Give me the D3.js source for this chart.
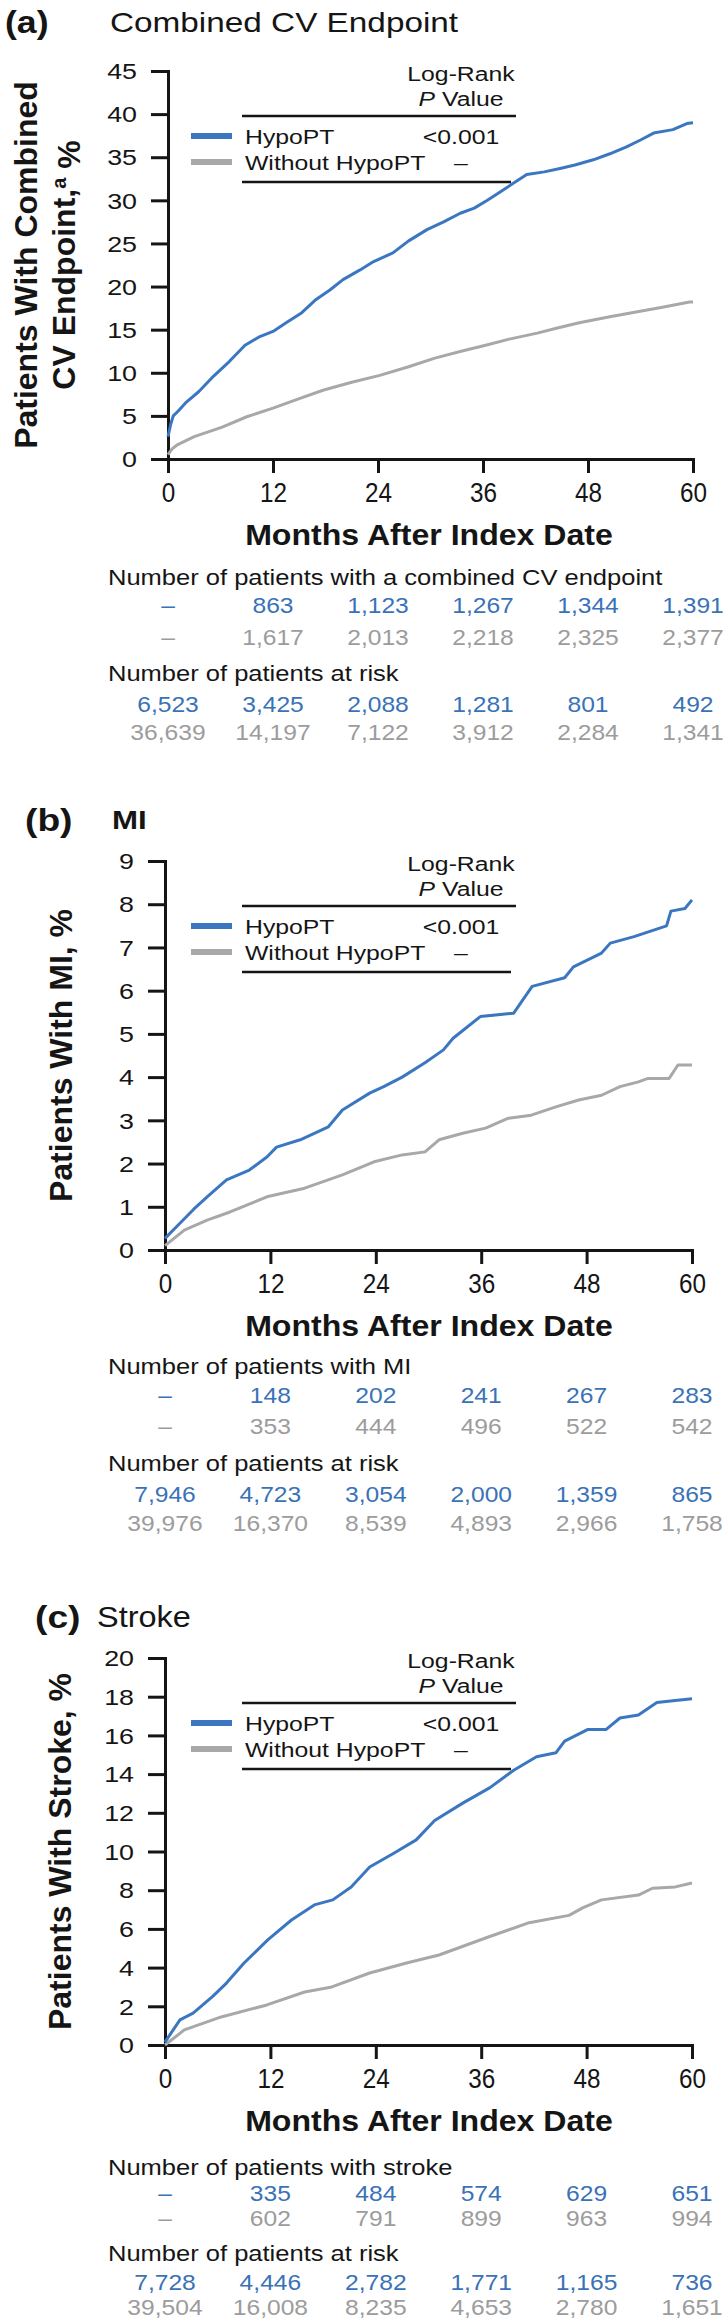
<!DOCTYPE html>
<html><head><meta charset="utf-8">
<script src="https://cdn.jsdelivr.net/npm/d3@7"></script>
<style>
body{margin:0;background:#fff}
svg{display:block}
text{font-family:"Liberation Sans",Arial,Helvetica,sans-serif}
</style>
</head><body>
<svg id="chart" width="723" height="2324"></svg>
<script>
// ---------- DATA ----------
const monthTicks = [0, 12, 24, 36, 48, 60];
const cvYTicks = [0, 5, 10, 15, 20, 25, 30, 35, 40, 45];
const miYTicks = [0, 1, 2, 3, 4, 5, 6, 7, 8, 9];
const strokeYTicks = [0, 2, 4, 6, 8, 10, 12, 14, 16, 18, 20];

const seriesNames = ["HypoPT", "Without HypoPT"];
const pValues = ["<0.001", "–"];

// [month, cumulative %]
const cvHypo = [[0,2.6],[0.3,4.0],[0.6,5.0],[1.2,5.6],[2,6.5],[3.5,7.8],[5,9.4],[7,11.3],[8.8,13.2],[10.5,14.2],[12,14.8],[13.5,15.8],[15.2,16.9],[16.8,18.4],[18.5,19.6],[20,20.8],[21.9,21.9],[23.5,22.9],[25.7,23.9],[27.5,25.3],[29.6,26.6],[31.5,27.5],[33.4,28.5],[35,29.1],[36.5,30.0],[38,31.0],[39.5,32.0],[41,33.0],[43,33.3],[44.8,33.7],[46.5,34.1],[48.6,34.7],[50.5,35.4],[52.4,36.2],[54,37.0],[55.5,37.8],[57.7,38.2],[59.3,38.9],[60,39.0]];
const cvNo = [[0,0.5],[0.5,1.2],[1,1.6],[3,2.6],[6.2,3.7],[9,4.9],[12,5.9],[15,7.0],[17.8,8.0],[21,8.9],[24.2,9.7],[27.5,10.7],[30.5,11.7],[33.5,12.5],[36.3,13.2],[39,13.9],[42.2,14.6],[44.5,15.2],[47,15.8],[50.5,16.5],[53.8,17.1],[56.5,17.6],[59.6,18.2],[60,18.2]];

const miHypo = [[0,0.27],[1.7,0.62],[3.3,0.95],[4.8,1.23],[7,1.62],[9.6,1.85],[11.6,2.15],[12.7,2.38],[15.4,2.55],[18.6,2.85],[20.2,3.24],[23.3,3.63],[24.9,3.78],[27,4.0],[29.6,4.33],[31.7,4.63],[32.8,4.9],[35.9,5.4],[39.7,5.48],[41.8,6.1],[45.5,6.3],[46.5,6.55],[49.7,6.87],[50.7,7.1],[53.4,7.25],[57.1,7.5],[57.6,7.84],[59.2,7.9],[60,8.1]];
const miNo = [[0,0.1],[2.2,0.46],[4.8,0.69],[7.4,0.88],[11.6,1.23],[15.9,1.43],[20.2,1.74],[23.8,2.04],[27,2.2],[29.6,2.27],[31.2,2.55],[33.9,2.7],[36.5,2.82],[39.1,3.05],[41.7,3.12],[44.5,3.31],[47.1,3.47],[49.7,3.58],[51.8,3.78],[53.9,3.89],[55,3.97],[57.4,3.97],[58.4,4.28],[60,4.28]];

const strokeHypo = [[0,0.15],[1.7,1.3],[3.2,1.65],[5.4,2.5],[7,3.2],[9,4.24],[11.7,5.43],[14.4,6.46],[17,7.24],[19.1,7.5],[21.2,8.17],[23.3,9.2],[26,9.9],[28.6,10.6],[30.7,11.6],[33.9,12.5],[37,13.3],[39.7,14.2],[42.3,14.9],[44.5,15.1],[45.5,15.7],[48.1,16.3],[50.2,16.3],[51.8,16.9],[53.9,17.05],[56,17.7],[58.1,17.8],[60,17.9]];
const strokeNo = [[0,0],[2.2,0.78],[6.4,1.45],[11.6,2.07],[15.9,2.74],[19,3.0],[23.3,3.72],[27.5,4.24],[31.2,4.65],[36.5,5.53],[41.3,6.3],[46,6.7],[47.6,7.1],[49.7,7.5],[53.9,7.75],[55.5,8.1],[58.1,8.17],[60,8.37]];

const cvEventsHypo = ["–","863","1,123","1,267","1,344","1,391"];
const cvEventsNo   = ["–","1,617","2,013","2,218","2,325","2,377"];
const cvRiskHypo   = ["6,523","3,425","2,088","1,281","801","492"];
const cvRiskNo     = ["36,639","14,197","7,122","3,912","2,284","1,341"];

const miEventsHypo = ["–","148","202","241","267","283"];
const miEventsNo   = ["–","353","444","496","522","542"];
const miRiskHypo   = ["7,946","4,723","3,054","2,000","1,359","865"];
const miRiskNo     = ["39,976","16,370","8,539","4,893","2,966","1,758"];

const strokeEventsHypo = ["–","335","484","574","629","651"];
const strokeEventsNo   = ["–","602","791","899","963","994"];
const strokeRiskHypo   = ["7,728","4,446","2,782","1,771","1,165","736"];
const strokeRiskNo     = ["39,504","16,008","8,235","4,653","2,780","1,651"];

// ---------- STYLE ----------
const BLUE = "#3b77c1", GRAY = "#a8a8a8";
const BLUE_T = "#3a72b8", GRAY_T = "#9c9c9c";
const INK = "#151515";

const svg = d3.select("#chart");

function T(g, x, y, str, o) {
  o = o || {};
  return g.append("text")
    .attr("transform", `translate(${x},${y}) scale(${o.sx || 1},1)`)
    .attr("text-anchor", o.anchor || "start")
    .attr("dy", "0.35em")
    .style("font-size", (o.size || 20) + "px")
    .style("font-weight", o.weight || 400)
    .style("font-style", o.italic ? "italic" : "normal")
    .attr("fill", o.fill || INK)
    .text(str);
}

const panels = [
  { letter:"(a)", letterX:5, letterSx:1.15, title:"Combined CV Endpoint", titleX:110, titleY:22, titleSize:28, titleWeight:400, titleSx:1.19,
    top:71, bottom:459, x0:168, x1:693, yMax:45, yTicks:cvYTicks, hypo:cvHypo, no:cvNo,
    ylab:"a", eventsLabel:"Number of patients with a combined CV endpoint",
    events:[cvEventsHypo, cvEventsNo], risk:[cvRiskHypo, cvRiskNo], tbl:[118,146,178,214,245,273] },
  { letter:"(b)", letterX:25, letterSx:1.2, title:"MI", titleX:112, titleY:820, titleSize:25, titleWeight:700, titleSx:1.25,
    top:861, bottom:1250, x0:165, x1:692, yMax:9, yTicks:miYTicks, hypo:miHypo, no:miNo,
    ylab:"Patients With MI, %", ylabX:60, eventsLabel:"Number of patients with MI",
    events:[miEventsHypo, miEventsNo], risk:[miRiskHypo, miRiskNo], tbl:[116,145,176,213,244,273] },
  { letter:"(c)", letterX:35, letterSx:1.2, title:"Stroke", titleX:97, titleY:1617, titleSize:29, titleWeight:400, titleSx:1.12,
    top:1658, bottom:2045, x0:165, x1:692, yMax:20, yTicks:strokeYTicks, hypo:strokeHypo, no:strokeNo,
    ylab:"Patients With Stroke, %", ylabX:59, eventsLabel:"Number of patients with stroke",
    events:[strokeEventsHypo, strokeEventsNo], risk:[strokeRiskHypo, strokeRiskNo], tbl:[122,148,173,208,237,262] }
];

panels.forEach(p => {
  const g = svg.append("g");
  const x = d3.scaleLinear().domain([0, 60]).range([p.x0, p.x1]);
  const y = d3.scaleLinear().domain([0, p.yMax]).range([p.bottom, p.top]);

  // titles
  T(g, p.letterX, p.titleY, p.letter, {size:31, weight:700, sx:p.letterSx});
  T(g, p.titleX, p.titleY, p.title, {size:p.titleSize, weight:p.titleWeight, sx:p.titleSx});

  // y axis
  const ya = g.append("g").attr("transform", `translate(${p.x0},0)`)
    .call(d3.axisLeft(y).tickValues(p.yTicks).tickSize(17).tickSizeOuter(0).tickFormat(d3.format("d")));
  ya.selectAll("path, line").attr("stroke", INK).attr("stroke-width", 3);
  ya.selectAll("text").attr("x", null).attr("dy", "0.35em")
    .attr("transform", "translate(-31,0) scale(1.22,1)")
    .style("font-size", "22px").attr("fill", INK).attr("font-family", null);

  // x axis
  const xa = g.append("g").attr("transform", `translate(0,${p.bottom})`)
    .call(d3.axisBottom(x).tickValues(monthTicks).tickSize(14).tickSizeOuter(0).tickFormat(d3.format("d")));
  xa.selectAll("path, line").attr("stroke", INK).attr("stroke-width", 3);
  xa.selectAll("text").attr("y", null).attr("dy", "0.35em")
    .attr("transform", "translate(0,34) scale(0.9,1)")
    .style("font-size", "27px").attr("fill", INK).attr("font-family", null);
  g.selectAll(".domain").attr("stroke-linecap", "square");

  // axis titles
  T(g, 429, p.bottom + 75, "Months After Index Date", {size:30, weight:700, sx:1.07, anchor:"middle"});
  const cy = (p.top + p.bottom) / 2;
  if (p.ylab === "a") {
    g.append("text").attr("transform", `translate(25,${cy}) rotate(-90)`).attr("text-anchor","middle").attr("dy","0.36em")
      .style("font-size","32px").style("font-weight",700).attr("fill",INK).text("Patients With Combined");
    const t2 = g.append("text").attr("transform", `translate(63,${cy}) rotate(-90)`).attr("text-anchor","middle").attr("dy","0.36em")
      .style("font-size","32px").style("font-weight",700).attr("fill",INK);
    t2.append("tspan").text("CV Endpoint,");
    t2.append("tspan").attr("dy","-0.45em").style("font-size","20px").text("a");
    t2.append("tspan").attr("dy","0.45em").text(" %");
  } else {
    g.append("text").attr("transform", `translate(${p.ylabX},${cy}) rotate(-90)`).attr("text-anchor","middle").attr("dy","0.36em")
      .style("font-size","32px").style("font-weight",700).attr("fill",INK).text(p.ylab);
  }

  // curves
  const line = d3.line().x(d => x(d[0])).y(d => y(d[1]));
  g.append("path").datum(p.no).attr("d", line).attr("fill","none").attr("stroke",GRAY).attr("stroke-width",3).attr("stroke-linejoin","round");
  g.append("path").datum(p.hypo).attr("d", line).attr("fill","none").attr("stroke",BLUE).attr("stroke-width",3).attr("stroke-linejoin","round");

  // legend
  const L = g.append("g");
  const lt = p.top;
  const lsx = 1.18, lsz = 21;
  T(L, 461, lt + 3, "Log-Rank", {size:lsz, sx:lsx, anchor:"middle"});
  const pv = T(L, 461, lt + 28, "", {size:lsz, sx:lsx, anchor:"middle"});
  pv.append("tspan").style("font-style","italic").text("P");
  pv.append("tspan").text(" Value");
  L.append("line").attr("x1",242).attr("x2",516).attr("y1",lt+45).attr("y2",lt+45).attr("stroke",INK).attr("stroke-width",2.5);
  L.append("line").attr("x1",242).attr("x2",511).attr("y1",lt+111).attr("y2",lt+111).attr("stroke",INK).attr("stroke-width",2.5);
  [BLUE, GRAY].forEach((c, i) => {
    const yy = lt + 65 + i * 26;
    L.append("line").attr("x1",191).attr("x2",232).attr("y1",yy).attr("y2",yy).attr("stroke",c).attr("stroke-width",6);
    T(L, 245, yy + 1, seriesNames[i], {size:lsz, sx:lsx});
    T(L, 461, yy + 1, pValues[i], {size:lsz, sx:lsx, anchor:"middle"});
  });

  // number tables
  const b = p.bottom, o = p.tbl;
  T(g, 108, b + o[0], p.eventsLabel, {size:22, sx:1.16});
  T(g, 108, b + o[3], "Number of patients at risk", {size:22, sx:1.16});
  const rows = [[p.events[0], o[1], BLUE_T], [p.events[1], o[2], GRAY_T], [p.risk[0], o[4], BLUE_T], [p.risk[1], o[5], GRAY_T]];
  rows.forEach(([vals, off, col]) => {
    g.append("g").selectAll("text").data(vals).join("text")
      .attr("transform", (d, i) => `translate(${x(monthTicks[i])},${b + off}) scale(1.12,1)`)
      .attr("text-anchor", "middle").attr("dy", "0.35em")
      .style("font-size", "22px").attr("fill", col).text(d => d);
  });
});
</script>
</body></html>
